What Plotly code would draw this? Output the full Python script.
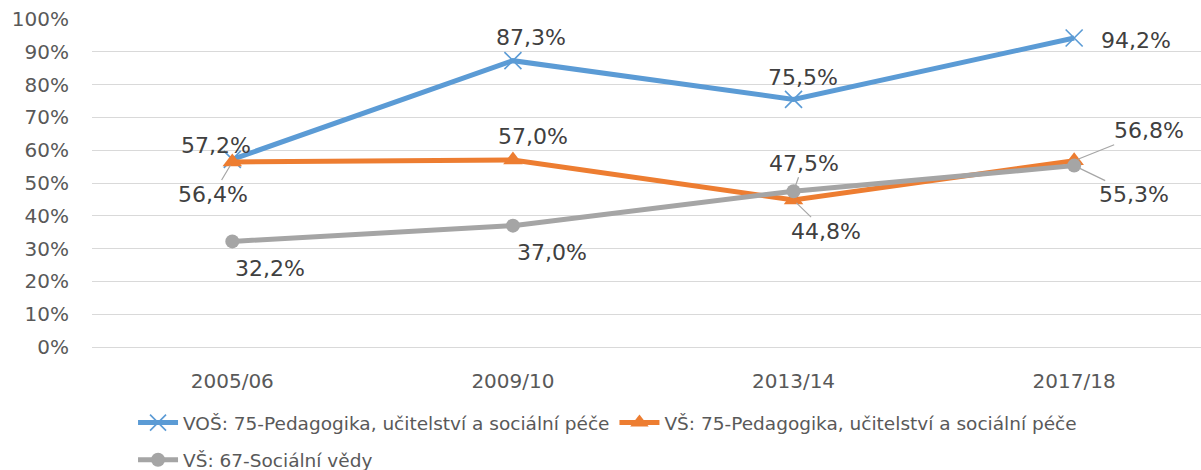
import plotly.graph_objects as go

categories = ["2005/06", "2009/10", "2013/14", "2017/18"]
s1_name = "VOŠ: 75-Pedagogika, učitelství a sociální péče"
s2_name = "VŠ: 75-Pedagogika, učitelství a sociální péče"
s3_name = "VŠ: 67-Sociální vědy"
s1 = [57.2, 87.3, 75.5, 94.2]
s2 = [56.4, 57.0, 44.8, 56.8]
s3 = [32.2, 37.0, 47.5, 55.3]
y_ticks = [0, 10, 20, 30, 40, 50, 60, 70, 80, 90, 100]

# label offsets in pixels (dx, dy), leader flag
s1_off = [(-16, -14, False), (18, -23, False), (9, -22, False), (62, 2, False)]
s2_off = [(-19, 32, True), (20, -24, False), (32, 31, True), (75, -30, True)]
s3_off = [(38, 27, False), (39, 27, False), (10, -28, True), (60, 29, True)]

BLUE = "#5B9BD5"
ORANGE = "#ED7D31"
GRAY = "#A5A5A5"
FONT = "DejaVu Sans"

fig = go.Figure()
fig.add_trace(go.Scatter(
    x=categories, y=s1, name=s1_name, mode="lines+markers",
    line=dict(color=BLUE, width=5),
    marker=dict(symbol="x-thin", size=17, line=dict(color=BLUE, width=1.6), color=BLUE),
    legend="legend"))
fig.add_trace(go.Scatter(
    x=categories, y=s2, name=s2_name, mode="lines+markers",
    line=dict(color=ORANGE, width=5),
    marker=dict(symbol="triangle-up", size=17, color=ORANGE),
    legend="legend"))
fig.add_trace(go.Scatter(
    x=categories, y=s3, name=s3_name, mode="lines+markers",
    line=dict(color=GRAY, width=5),
    marker=dict(symbol="circle", size=14, color=GRAY),
    legend="legend2"))

def fmt(v):
    return f"{v:.1f}".replace(".", ",") + "%"

annotations = []
for series, offs in ((s1, s1_off), (s2, s2_off), (s3, s3_off)):
    for cat, v, (dx, dy, leader) in zip(categories, series, offs):
        if leader:
            annotations.append(dict(
                x=cat, y=v, xref="x", yref="y", text=fmt(v),
                showarrow=True, arrowhead=0, arrowwidth=1.2, arrowcolor="#A6A6A6",
                ax=dx, ay=dy, standoff=4,
                font=dict(family=FONT, size=22, color="#404040")))
        else:
            annotations.append(dict(
                x=cat, y=v, xref="x", yref="y", text=fmt(v),
                showarrow=False, xshift=dx, yshift=-dy,
                font=dict(family=FONT, size=22, color="#404040")))

fig.update_layout(
    width=1201, height=470,
    margin=dict(l=92, r=0, t=19, b=123, autoexpand=False),
    paper_bgcolor="white", plot_bgcolor="white",
    font=dict(family=FONT, size=20, color="#595959"),
    annotations=annotations,
    legend=dict(orientation="h", x=0.037, xanchor="left", y=-0.232, yanchor="middle",
                font=dict(family=FONT, size=18.5, color="#595959"),
                bgcolor="rgba(0,0,0,0)", itemwidth=40, traceorder="normal"),
    legend2=dict(orientation="h", x=0.037, xanchor="left", y=-0.345, yanchor="middle",
                 font=dict(family=FONT, size=18.5, color="#595959"),
                 bgcolor="rgba(0,0,0,0)", itemwidth=40),
)
fig.update_xaxes(
    type="category", range=[-0.5, 3.452], showgrid=False, zeroline=False,
    showline=False, ticks="outside", ticklen=16, tickcolor="rgba(0,0,0,0)",
    tickfont=dict(family=FONT, size=20, color="#595959"))
fig.update_yaxes(
    range=[0, 100], tickvals=y_ticks, ticktext=[f"{t}%" for t in y_ticks],
    showgrid=True, gridcolor="#D9D9D9", gridwidth=1.3,
    zeroline=True, zerolinecolor="#D9D9D9", zerolinewidth=1.3,
    ticks="outside", ticklen=18, tickcolor="rgba(0,0,0,0)",
    tickfont=dict(family=FONT, size=20, color="#595959"))

fig.write_html("out.html", config={"displayModeBar": False},
               post_script="document.body.style.margin='0';document.body.style.overflow='hidden';")
